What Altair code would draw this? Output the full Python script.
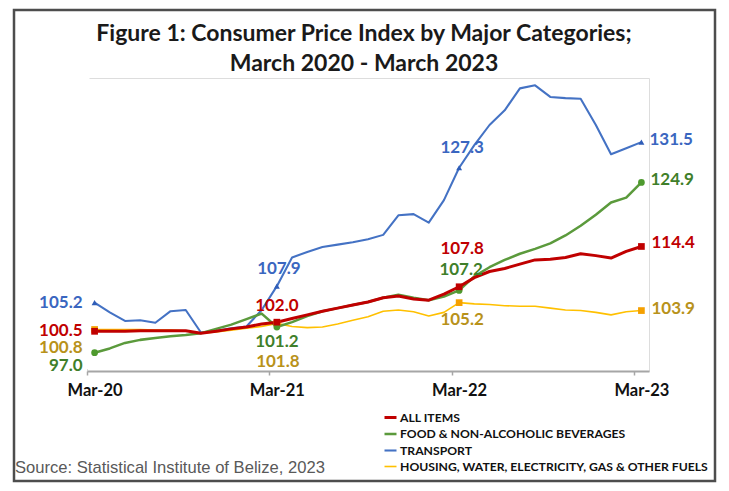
import altair as alt
import pandas as pd

# ---------------- data ----------------
MONTHS = list(range(37))            # 0 = Mar-2020 ... 36 = Mar-2023
TICK_MONTHS = [0, 12, 24, 36]
TICK_LABELS = ["Mar-20", "Mar-21", "Mar-22", "Mar-23"]

SERIES = [
    "ALL ITEMS",
    "FOOD & NON-ALCOHOLIC BEVERAGES",
    "TRANSPORT",
    "HOUSING, WATER, ELECTRICITY, GAS & OTHER FUELS",
]

ALL_ITEMS = [100.5, 100.5, 100.5, 100.6, 100.6, 100.6, 100.6, 100.2, 100.5, 100.9,
             101.2, 101.7, 102.0, 102.6, 103.2, 103.8, 104.3, 104.8, 105.3, 106.0,
             106.3, 105.8, 105.6, 106.6, 107.8, 109.3, 110.3, 110.8, 111.5, 112.2,
             112.3, 112.6, 113.2, 112.9, 112.5, 113.6, 114.4]
FOOD = [97.0, 97.7, 98.6, 99.1, 99.4, 99.7, 99.9, 100.2, 100.9, 101.6,
        102.5, 103.4, 101.2, 102.0, 103.0, 103.8, 104.3, 104.8, 105.3, 106.0,
        106.5, 106.0, 105.6, 106.2, 107.2, 109.5, 111.0, 112.2, 113.2, 114.0,
        114.9, 116.2, 117.8, 119.6, 121.6, 122.4, 124.9]
TRANSPORT = [105.2, 103.6, 102.2, 102.3, 101.9, 103.8, 104.0, 100.3, 100.6, 101.0,
             101.3, 104.0, 107.9, 112.6, 113.5, 114.3, 114.7, 115.1, 115.6, 116.3,
             119.5, 119.7, 118.3, 122.0, 127.3, 131.0, 134.3, 136.7, 140.3, 140.8,
             138.9, 138.7, 138.6, 134.3, 129.5, 130.5, 131.5]
HOUSING = [100.8, 100.8, 100.8, 100.8, 100.7, 100.7, 100.6, 100.2, 100.4, 100.7,
           101.0, 101.3, 101.8, 101.3, 101.1, 101.2, 101.7, 102.3, 102.9, 103.8,
           104.0, 103.7, 103.0, 103.6, 105.2, 105.0, 104.9, 104.7, 104.6, 104.6,
           104.3, 104.0, 103.9, 103.6, 103.2, 103.7, 103.9]

TITLE = ["Figure 1: Consumer Price Index by Major Categories;", "March 2020 - March 2023"]
SOURCE = "Source: Statistical Institute of Belize, 2023"

# ---------------- styles ----------------
LINE_COLORS = ["#C00000", "#5B9A3C", "#4472C4", "#FFC000"]
MARKER_COLORS = ["#C00000", "#4E9A2E", "#2F5DB8", "#F5A000"]
LABEL_COLORS = ["#C00000", "#3F7F2A", "#3A66C0", "#B8921A"]
STROKE_WIDTHS = [3, 1.6, 2, 2]
SHAPES = ["square", "circle", "triangle-up", "square"]
DRAW_ORDER = [3, 2, 1, 0]

# label placement per (series index, anchor index): (align, dx, dy)
LABEL_POS = {
    (0, 0): ("right", -12, 0), (1, 0): ("right", -12, 13), (2, 0): ("right", -12, 0), (3, 0): ("right", -12, 19),
    (0, 1): ("center", 0, -16), (1, 1): ("center", 0, 15), (2, 1): ("center", 2, -17), (3, 1): ("center", 1, 39),
    (0, 2): ("center", 3, -38), (1, 2): ("center", 2, -20), (2, 2): ("center", 3, -20), (3, 2): ("center", 3, 17),
    (0, 3): ("left", 10, -3), (1, 3): ("left", 9, -2), (2, 3): ("left", 8, -2), (3, 3): ("left", 10, -2),
}

rows = []
for name, vals in zip(SERIES, [ALL_ITEMS, FOOD, TRANSPORT, HOUSING]):
    for m, v in zip(MONTHS, vals):
        rows.append({"month": m, "series": name, "value": v})
df = pd.DataFrame(rows)
anchors = df[df["month"].isin(TICK_MONTHS)].reset_index(drop=True)

W, H = 562, 293
OX, OY = 87, 78   # plot-area origin in page pixels

label_expr = "[" + ",".join(f"'{t}'" for t in TICK_LABELS) + "][round(datum.value/12)]"
X = alt.X(
    "month:Q",
    scale=alt.Scale(domain=[-0.5, 36.5], nice=False, zero=False),
    axis=alt.Axis(
        values=TICK_MONTHS, labelExpr=label_expr, title=None, grid=False,
        domainColor="#A6A6A6", domainWidth=2, tickColor="#A6A6A6", tickWidth=1.5,
        tickSize=4, tickOffset=-7.6, labelOffset=7.6, labelPadding=7,
        labelFont="Lato", labelFontSize=16.5, labelFontWeight="bold", labelColor="#111111",
    ),
)
Y = alt.Y("value:Q", scale=alt.Scale(domain=[94, 142], nice=False, zero=False), axis=None)

color = alt.Color(
    "series:N",
    scale=alt.Scale(domain=SERIES, range=LINE_COLORS),
    legend=alt.Legend(
        title=None, orient="none", legendX=296, legendY=332, direction="vertical",
        symbolType="stroke", symbolSize=144, symbolStrokeWidth=2.5,
        labelFont="Lato", labelFontSize=12.2, labelFontWeight="bold", labelColor="#111111",
        rowPadding=2.5, labelOffset=2, labelLimit=500, padding=0,
    ),
)
sw = alt.StrokeWidth("series:N", scale=alt.Scale(domain=SERIES, range=STROKE_WIDTHS), legend=None)

layers = []

annot = pd.DataFrame({"t": [SOURCE]})
frame = alt.Chart(annot).mark_rect(fillOpacity=0, stroke="#4D4D4D", strokeWidth=2.5).encode(
    x=alt.value(14 - OX), x2=alt.value(715 - OX), y=alt.value(10 - OY), y2=alt.value(481 - OY)
)
layers.append(frame)

title_df = pd.DataFrame({"t": TITLE, "line": [0, 1]})
for i, yb in enumerate([41, 71]):
    layers.append(
        alt.Chart(title_df).transform_filter(alt.datum.line == i)
        .mark_text(align="center", baseline="alphabetic", font="Lato", fontSize=23,
                   fontWeight="bold", color="#1A1A1A")
        .encode(x=alt.value(364 - OX), y=alt.value(yb - OY), text="t:N")
    )

for idx in DRAW_ORDER:
    s = SERIES[idx]
    layers.append(
        alt.Chart(df).transform_filter(alt.datum.series == s)
        .mark_line(strokeJoin="round")
        .encode(x=X, y=Y, color=color, strokeWidth=sw)
    )

for idx in DRAW_ORDER:
    s = SERIES[idx]
    layers.append(
        alt.Chart(anchors).transform_filter(alt.datum.series == s)
        .mark_point(filled=True, shape=SHAPES[idx], size=45 if idx != 2 else 35, opacity=1,
                    color=MARKER_COLORS[idx])
        .encode(x=X, y=Y)
    )

for (si, ai), (align, dx, dy) in LABEL_POS.items():
    s = SERIES[si]
    m = TICK_MONTHS[ai]
    layers.append(
        alt.Chart(anchors)
        .transform_filter((alt.datum.series == s) & (alt.datum.month == m))
        .mark_text(align=align, baseline="middle", dx=dx, dy=dy, font="Lato",
                   fontSize=17, fontWeight="bold", color=LABEL_COLORS[si])
        .encode(x=X, y=Y, text=alt.Text("value:Q", format=".1f"))
    )

source = alt.Chart(annot).mark_text(
    align="left", baseline="middle", font="Liberation Sans", fontSize=16.6, color="#595959"
).encode(x=alt.value(15 - OX), y=alt.value(468 - OY), text="t:N")
layers.append(source)

# white mask over a stray vertical edge at the plot's left border
mask = alt.Chart(annot).mark_rule(color="white", strokeWidth=4).encode(
    x=alt.value(0.5), y=alt.value(-3), y2=alt.value(H - 2)
)
layers.append(mask)

chart = (
    alt.layer(*layers)
    .properties(
        width=W, height=H,
        padding={"left": OX - 8, "top": OY - 8, "right": 713 - (OX - 8) - W, "bottom": 475 - (OY - 8) - H},
        autosize=alt.AutoSizeParams(type="none"),
    )
    .configure_view(strokeWidth=0, stroke="transparent")
    .configure_axis(grid=False)
    .configure_axisY(domain=False, ticks=False, labels=False, grid=False)
    .configure(background="white")
)

chart.save("out.html", embed_options={"renderer": "svg", "actions": False})
